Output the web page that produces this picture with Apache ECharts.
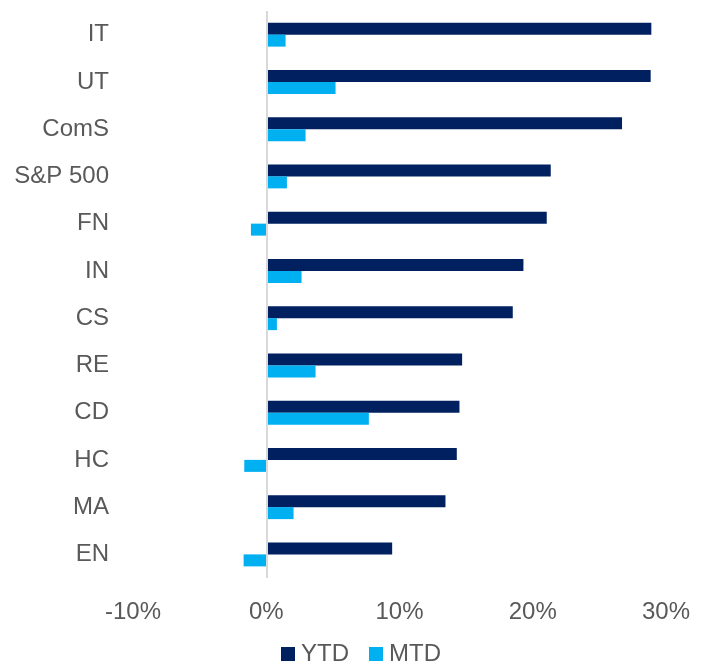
<!DOCTYPE html>
<html>
<head>
<meta charset="utf-8">
<script src="https://cdn.jsdelivr.net/npm/echarts@6/dist/echarts.min.js"></script>
<style>
	html, body { margin: 0; padding: 0; background: #fff; }
	#chart { width: 705px; height: 666px; }
</style>
</head>
<body>
<div id="chart"></div>
<script>
var categories = ['IT', 'UT', 'ComS', 'S&P 500', 'FN', 'IN', 'CS', 'RE', 'CD', 'HC', 'MA', 'EN'];
var ytd = [28.9, 28.85, 26.7, 21.35, 21.05, 19.3, 18.5, 14.7, 14.5, 14.3, 13.45, 9.45];
var mtd = [1.45, 5.2, 2.95, 1.55, -1.15, 2.65, 0.8, 3.7, 7.7, -1.65, 2.05, -1.7];
var xTicks = [-10, 0, 10, 20, 30];

var chartDom = document.getElementById('chart');
var myChart = echarts.init(chartDom);
var option;

var fontName = 'Liberation Sans';

option = {
	animation: false,
	grid: {
		left: 133,
		right: 39,
		top: 11,
		bottom: 88
	},
	legend: {
		top: 642,
		left: 281,
		padding: 0,
		itemWidth: 14,
		itemHeight: 14,
		itemGap: 20,
		icon: 'rect',
		textStyle: {
			color: '#595959',
			fontSize: 24,
			fontFamily: fontName,
			padding: [0, 0, 0, 1]
		},
		data: ['YTD', 'MTD']
	},
	xAxis: {
		type: 'value',
		min: xTicks[0],
		max: xTicks[xTicks.length - 1],
		interval: 10,
		axisLine: { show: false },
		axisTick: { show: false },
		splitLine: { show: false },
		axisLabel: {
			color: '#595959',
			fontSize: 24,
			fontFamily: fontName,
			margin: 22,
			formatter: '{value}%'
		}
	},
	yAxis: {
		type: 'category',
		inverse: true,
		data: categories,
		axisLine: { show: false },
		axisTick: { show: false },
		axisLabel: {
			color: '#595959',
			fontSize: 24,
			fontFamily: fontName,
			margin: 24
		}
	},
	series: [
		{
			name: 'YTD',
			type: 'bar',
			data: ytd,
			barWidth: 12,
			barGap: '0%',
			itemStyle: { color: '#002060' },
			markLine: {
				silent: true,
				symbol: 'none',
				label: { show: false },
				lineStyle: { color: '#d9d9d9', width: 2, type: 'solid' },
				data: [{ xAxis: 0 }]
			}
		},
		{
			name: 'MTD',
			type: 'bar',
			data: mtd,
			barWidth: 12,
			itemStyle: { color: '#00B0F0' }
		}
	]
};

option && myChart.setOption(option);
</script>
</body>
</html>
